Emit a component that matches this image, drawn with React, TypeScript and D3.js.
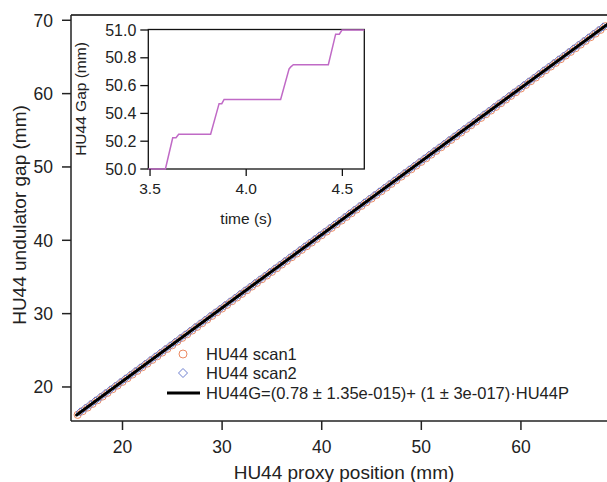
import { useEffect, useRef } from 'react';
import * as d3 from 'd3';

// main plot data (mm)
const scan1Proxy = [15.5, 16, 16.5, 17, 17.5, 18, 18.5, 19, 19.5, 20, 20.5, 21, 21.5, 22, 22.5, 23, 23.5, 24, 24.5, 25, 25.5, 26, 26.5, 27, 27.5, 28, 28.5, 29, 29.5, 30, 30.5, 31, 31.5, 32, 32.5, 33, 33.5, 34, 34.5, 35, 35.5, 36, 36.5, 37, 37.5, 38, 38.5, 39, 39.5, 40, 40.5, 41, 41.5, 42, 42.5, 43, 43.5, 44, 44.5, 45, 45.5, 46, 46.5, 47, 47.5, 48, 48.5, 49, 49.5, 50, 50.5, 51, 51.5, 52, 52.5, 53, 53.5, 54, 54.5, 55, 55.5, 56, 56.5, 57, 57.5, 58, 58.5, 59, 59.5, 60, 60.5, 61, 61.5, 62, 62.5, 63, 63.5, 64, 64.5, 65, 65.5, 66, 66.5, 67, 67.5, 68, 68.5];
const scan1Gap = [16.2, 16.7, 17.2, 17.7, 18.2, 18.7, 19.2, 19.7, 20.2, 20.7, 21.2, 21.7, 22.2, 22.7, 23.2, 23.7, 24.2, 24.7, 25.2, 25.7, 26.2, 26.7, 27.2, 27.7, 28.2, 28.7, 29.2, 29.7, 30.2, 30.7, 31.2, 31.7, 32.2, 32.7, 33.2, 33.7, 34.2, 34.7, 35.2, 35.7, 36.2, 36.7, 37.2, 37.7, 38.2, 38.7, 39.2, 39.7, 40.2, 40.7, 41.2, 41.7, 42.2, 42.7, 43.2, 43.7, 44.2, 44.7, 45.2, 45.7, 46.2, 46.7, 47.2, 47.7, 48.2, 48.7, 49.2, 49.7, 50.2, 50.7, 51.2, 51.7, 52.2, 52.7, 53.2, 53.7, 54.2, 54.7, 55.2, 55.7, 56.2, 56.7, 57.2, 57.7, 58.2, 58.7, 59.2, 59.7, 60.2, 60.7, 61.2, 61.7, 62.2, 62.7, 63.2, 63.7, 64.2, 64.7, 65.2, 65.7, 66.2, 66.7, 67.2, 67.7, 68.2, 68.7, 69.2];
const scan2Proxy = [15.75, 16.25, 16.75, 17.25, 17.75, 18.25, 18.75, 19.25, 19.75, 20.25, 20.75, 21.25, 21.75, 22.25, 22.75, 23.25, 23.75, 24.25, 24.75, 25.25, 25.75, 26.25, 26.75, 27.25, 27.75, 28.25, 28.75, 29.25, 29.75, 30.25, 30.75, 31.25, 31.75, 32.25, 32.75, 33.25, 33.75, 34.25, 34.75, 35.25, 35.75, 36.25, 36.75, 37.25, 37.75, 38.25, 38.75, 39.25, 39.75, 40.25, 40.75, 41.25, 41.75, 42.25, 42.75, 43.25, 43.75, 44.25, 44.75, 45.25, 45.75, 46.25, 46.75, 47.25, 47.75, 48.25, 48.75, 49.25, 49.75, 50.25, 50.75, 51.25, 51.75, 52.25, 52.75, 53.25, 53.75, 54.25, 54.75, 55.25, 55.75, 56.25, 56.75, 57.25, 57.75, 58.25, 58.75, 59.25, 59.75, 60.25, 60.75, 61.25, 61.75, 62.25, 62.75, 63.25, 63.75, 64.25, 64.75, 65.25, 65.75, 66.25, 66.75, 67.25, 67.75, 68.25];
const scan2Gap = [16.6, 17.1, 17.6, 18.1, 18.6, 19.1, 19.6, 20.1, 20.6, 21.1, 21.6, 22.1, 22.6, 23.1, 23.6, 24.1, 24.6, 25.1, 25.6, 26.1, 26.6, 27.1, 27.6, 28.1, 28.6, 29.1, 29.6, 30.1, 30.6, 31.1, 31.6, 32.1, 32.6, 33.1, 33.6, 34.1, 34.6, 35.1, 35.6, 36.1, 36.6, 37.1, 37.6, 38.1, 38.6, 39.1, 39.6, 40.1, 40.6, 41.1, 41.6, 42.1, 42.6, 43.1, 43.6, 44.1, 44.6, 45.1, 45.6, 46.1, 46.6, 47.1, 47.6, 48.1, 48.6, 49.1, 49.6, 50.1, 50.6, 51.1, 51.6, 52.1, 52.6, 53.1, 53.6, 54.1, 54.6, 55.1, 55.6, 56.1, 56.6, 57.1, 57.6, 58.1, 58.6, 59.1, 59.6, 60.1, 60.6, 61.1, 61.6, 62.1, 62.6, 63.1, 63.6, 64.1, 64.6, 65.1, 65.6, 66.1, 66.6, 67.1, 67.6, 68.1, 68.6, 69.1];

// linear fit HU44G = a + b * HU44P
const fitIntercept = 0.78;
const fitSlope = 1;
const fitRange = [15.4, 68.7];

const mainXTicks = [20, 30, 40, 50, 60];
const mainYTicks = [20, 30, 40, 50, 60, 70];

// inset: gap vs time
const insetTime = [3.49, 3.58, 3.618, 3.635, 3.649, 3.815, 3.859, 3.873, 3.885, 4.179, 4.223, 4.232, 4.245, 4.427, 4.465, 4.484, 4.498, 4.614];
const insetGap = [50.0, 50.0, 50.225, 50.225, 50.25, 50.25, 50.47, 50.47, 50.5, 50.5, 50.72, 50.735, 50.75, 50.75, 50.97, 50.97, 51.0, 51.0];
const insetXTicks = [3.5, 4.0, 4.5];
const insetYTicks = [50.0, 50.2, 50.4, 50.6, 50.8, 51.0];

const legendItems = ['HU44 scan1', 'HU44 scan2', 'HU44G=(0.78 ± 1.35e-015)+ (1 ± 3e-017)·HU44P'];

const W = 607;
const H = 482;
const FONT = '"Liberation Sans", Arial, sans-serif';

const App = () => {
  const svgRef = useRef<SVGSVGElement>(null);

  useEffect(() => {
    const svg = d3.select(svgRef.current);
    svg.selectAll('*').remove();

    // main plot area
    const left = 71, right = 607, top = 15, bottom = 421;
    const x = d3.scaleLinear().domain([14.83, 68.64]).range([left, right]);
    const y = d3.scaleLinear().domain([15.36, 70.72]).range([bottom, top]);

    svg.append('defs').append('clipPath').attr('id', 'plotclip')
      .append('rect').attr('x', left).attr('y', top).attr('width', right - left).attr('height', bottom - top);

    const plot = svg.append('g').attr('clip-path', 'url(#plotclip)');

    // scan1 circles
    plot.append('g').selectAll('circle')
      .data(scan1Proxy.map((p, i) => [p, scan1Gap[i]]))
      .enter().append('circle')
      .attr('cx', (d) => x(d[0]))
      .attr('cy', (d) => y(d[1]))
      .attr('r', 3.6)
      .attr('fill', 'none')
      .attr('stroke', '#ec8a62')
      .attr('stroke-width', 1);

    // scan2 diamonds
    plot.append('g').selectAll('path')
      .data(scan2Proxy.map((p, i) => [p, scan2Gap[i]]))
      .enter().append('path')
      .attr('d', (d) => {
        const cx = x(d[0]), cy = y(d[1]), s = 4;
        return `M${cx},${cy - s}L${cx + s},${cy}L${cx},${cy + s}L${cx - s},${cy}Z`;
      })
      .attr('fill', 'none')
      .attr('stroke', '#6d7fd0')
      .attr('stroke-width', 1);

    // fit line
    plot.append('line')
      .attr('x1', x(fitRange[0])).attr('y1', y(fitIntercept + fitSlope * fitRange[0]))
      .attr('x2', x(fitRange[1])).attr('y2', y(fitIntercept + fitSlope * fitRange[1]))
      .attr('stroke', '#000').attr('stroke-width', 3).attr('stroke-linecap', 'round');

    // frame
    svg.append('line').attr('x1', left).attr('x2', right).attr('y1', top).attr('y2', top)
      .attr('stroke', '#444').attr('stroke-width', 2);
    svg.append('line').attr('x1', left).attr('x2', right).attr('y1', bottom).attr('y2', bottom)
      .attr('stroke', '#222').attr('stroke-width', 1.5);
    svg.append('line').attr('x1', left).attr('x2', left).attr('y1', top).attr('y2', bottom)
      .attr('stroke', '#222').attr('stroke-width', 1.5);

    // x ticks
    const xt = svg.append('g');
    mainXTicks.forEach((t) => {
      xt.append('line').attr('x1', x(t)).attr('x2', x(t)).attr('y1', bottom).attr('y2', bottom + 9)
        .attr('stroke', '#222').attr('stroke-width', 1.5);
      xt.append('text').attr('x', x(t)).attr('y', bottom + 32)
        .attr('text-anchor', 'middle').style('font-family', FONT).style('font-size', '17.5px')
        .attr('fill', '#222').text(t);
    });
    // y ticks
    const yt = svg.append('g');
    mainYTicks.forEach((t) => {
      yt.append('line').attr('x1', left - 9).attr('x2', left).attr('y1', y(t)).attr('y2', y(t))
        .attr('stroke', '#222').attr('stroke-width', 1.5);
      yt.append('text').attr('x', left - 18).attr('y', y(t) + 6.3)
        .attr('text-anchor', 'end').style('font-family', FONT).style('font-size', '17.5px')
        .attr('fill', '#222').text(t);
    });

    // axis titles
    svg.append('text').attr('x', 344).attr('y', 478.5).attr('text-anchor', 'middle')
      .style('font-family', FONT).style('font-size', '19px').attr('fill', '#222')
      .text('HU44 proxy position (mm)');
    svg.append('text').attr('transform', 'translate(25.5,215) rotate(-90)').attr('text-anchor', 'middle')
      .style('font-family', FONT).style('font-size', '19px').attr('fill', '#222')
      .text('HU44 undulator gap (mm)');

    // legend
    const lg = svg.append('g').style('font-family', FONT).style('font-size', '16.5px');
    const lgY = [354, 373, 393];
    lg.append('circle').attr('cx', 183).attr('cy', lgY[0]).attr('r', 4)
      .attr('fill', 'none').attr('stroke', '#ec8a62').attr('stroke-width', 1);
    lg.append('path').attr('d', `M183,${lgY[1] - 4.5}L187.5,${lgY[1]}L183,${lgY[1] + 4.5}L178.5,${lgY[1]}Z`)
      .attr('fill', 'none').attr('stroke', '#6d7fd0').attr('stroke-width', 1);
    lg.append('line').attr('x1', 167).attr('x2', 200).attr('y1', lgY[2]).attr('y2', lgY[2])
      .attr('stroke', '#000').attr('stroke-width', 3);
    legendItems.forEach((s, i) => {
      lg.append('text').attr('x', 206).attr('y', lgY[i] + 5.8).attr('fill', '#222').text(s);
    });

    // inset
    const iL = 148.3, iR = 364.3, iT = 29.5, iB = 169;
    const ix = d3.scaleLinear().domain([3.491, 4.614]).range([iL, iR]);
    const iy = d3.scaleLinear().domain([50.0, 51.0]).range([iB, 30]);
    const inset = svg.append('g');
    inset.append('rect').attr('x', iL).attr('y', iT).attr('width', iR - iL).attr('height', iB - iT)
      .attr('fill', '#fff').attr('stroke', '#111').attr('stroke-width', 1.3);
    const insetLine = d3.line<number>()
      .x((d) => ix(d))
      .y((_, i) => iy(insetGap[i]));
    inset.append('path').attr('d', insetLine(insetTime))
      .attr('fill', 'none').attr('stroke', '#c06ac6').attr('stroke-width', 1.5);

    insetXTicks.forEach((t) => {
      inset.append('line').attr('x1', ix(t)).attr('x2', ix(t)).attr('y1', iB).attr('y2', iB + 7)
        .attr('stroke', '#111').attr('stroke-width', 1.3);
      inset.append('text').attr('x', ix(t)).attr('y', iB + 25).attr('text-anchor', 'middle')
        .style('font-family', FONT).style('font-size', '15.5px').attr('fill', '#222').text(t.toFixed(1));
    });
    insetYTicks.forEach((t) => {
      inset.append('line').attr('x1', iL - 8).attr('x2', iL).attr('y1', iy(t)).attr('y2', iy(t))
        .attr('stroke', '#111').attr('stroke-width', 1.3);
      inset.append('text').attr('x', iL - 12).attr('y', iy(t) + 5.5).attr('text-anchor', 'end')
        .style('font-family', FONT).style('font-size', '16px').attr('fill', '#222').text(t.toFixed(1));
    });
    inset.append('text').attr('x', ix(4.0)).attr('y', 224).attr('text-anchor', 'middle')
      .style('font-family', FONT).style('font-size', '15.5px').attr('fill', '#222').text('time (s)');
    inset.append('text').attr('transform', 'translate(86,99) rotate(-90)').attr('text-anchor', 'middle')
      .style('font-family', FONT).style('font-size', '15.5px').attr('fill', '#222').text('HU44 Gap (mm)');
  }, []);

  return (
    <div style={{ position: 'absolute', left: 0, top: 0 }}>
      <svg ref={svgRef} width={W} height={H} style={{ display: 'block', background: '#fff' }} />
    </div>
  );
};

export default App;
